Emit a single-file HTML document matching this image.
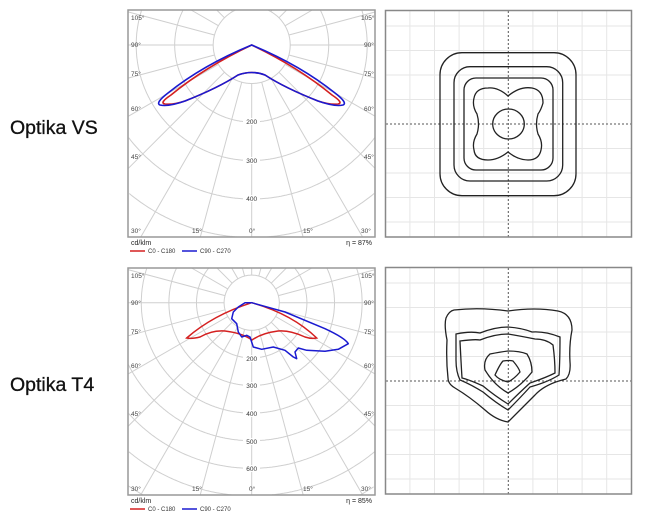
<!DOCTYPE html>
<html><head><meta charset="utf-8"><style>
html,body{margin:0;padding:0;background:#fff;width:645px;height:525px;overflow:hidden;position:relative}
svg{display:block;position:absolute;left:0;top:0}
text{font-family:"Liberation Sans",sans-serif}
.ax{font-size:6.5px;fill:#444}
.rl{font-size:6.5px;fill:#333}
</style></head><body>
<svg width="645" height="525" viewBox="0 0 645 525" xmlns="http://www.w3.org/2000/svg">
<defs>
<clipPath id="c1"><rect x="128" y="10" width="247" height="227"/></clipPath>
<clipPath id="c2"><rect x="128" y="268" width="247" height="227"/></clipPath>
</defs>
<text x="10" y="134" style="font-size:19.5px;fill:#111;stroke:#111;stroke-width:0.3">Optika VS</text>
<text x="10" y="391" style="font-size:19.5px;fill:#111;stroke:#111;stroke-width:0.3">Optika T4</text>

<g id="g1" stroke="#cfcfcf" stroke-width="1" fill="none"></g>
<g id="g2" stroke="#cfcfcf" stroke-width="1" fill="none"></g>

<path d="M251.7,45 Q298,67 332,95 Q344,103 338,104 Q330,105 318,101 Q285,88 265,75 Q252,70 238,75 Q218,88 185,101 Q173,105 165,104 Q159,103 171,95 Q205,67 251.7,45Z" fill="none" stroke="#d42020" stroke-width="1.6"/>
<path d="M251.7,45 Q300,65 335,93 Q348,103 343,105 Q335,107 318,101 Q285,88 265,75 Q252,70 238,75 Q218,88 185,101 Q168,107 160,105 Q155,103 168,93 Q203,65 251.7,45Z" fill="none" stroke="#1a1ad0" stroke-width="1.6"/>
<rect x="128" y="10" width="247" height="227" fill="none" stroke="#999" stroke-width="1.5"/>
<g class="ax">
<text x="131" y="20">105°</text><text x="131" y="47">90°</text><text x="131" y="76">75°</text><text x="131" y="111">60°</text><text x="131" y="159">45°</text>
<text x="131" y="233">30°</text><text x="192" y="233">15°</text><text x="249" y="233">0°</text><text x="303" y="233">15°</text><text x="361" y="233">30°</text>
<text x="361" y="20">105°</text><text x="364" y="47">90°</text><text x="364" y="76">75°</text><text x="364" y="111">60°</text><text x="364" y="159">45°</text>
</g>
<g class="rl" text-anchor="middle">
<rect x="243" y="118" width="17" height="7" fill="#fff"/><text x="251.7" y="124">200</text>
<rect x="243" y="157" width="17" height="7" fill="#fff"/><text x="251.7" y="163">300</text>
<rect x="243" y="195" width="17" height="7" fill="#fff"/><text x="251.7" y="201">400</text>
</g>
<text x="131" y="245" style="font-size:7px;fill:#222">cd/klm</text>
<text x="372" y="245" text-anchor="end" style="font-size:7px;fill:#222">η = 87%</text>
<line x1="130" y1="251" x2="145" y2="251" stroke="#d42020" stroke-width="1.5"/>
<text x="148" y="253" style="font-size:6px;fill:#333">C0 - C180</text>
<line x1="182" y1="251" x2="197" y2="251" stroke="#1a1ad0" stroke-width="1.5"/>
<text x="200" y="253" style="font-size:6px;fill:#333">C90 - C270</text>

<path d="M251.7,302.7 Q292,314 316.7,338 Q311,339 305,337 Q290,330 278,331 Q262,333 252,340 Q242,333 225,331 Q212,330 200,337 Q192,339 186.7,338 Q213,315 251.7,302.7Z" fill="none" stroke="#d42020" stroke-width="1.5"/>
<path d="M251.7,302.7 L285,312 L325,328.7 Q345,338 348.3,343.7 L338.3,349.3 L325,351.3 L306.7,350.3 L298.3,348 L295,352 L296.7,358.7 L293.3,357 L285,350.3 L273.3,347 L261.7,349.3 L253.3,347 L250,337 L246.7,335.3 L241.7,337 L238.3,332 L236.7,323.7 L231.7,318.7 L233.3,312 L238.3,307 L245,302.7Z" fill="none" stroke="#1a1ad0" stroke-width="1.5" stroke-linejoin="round"/>
<rect x="128" y="268" width="247" height="227" fill="none" stroke="#999" stroke-width="1.5"/>
<g class="ax">
<text x="131" y="278">105°</text><text x="131" y="305">90°</text><text x="131" y="334">75°</text><text x="131" y="368">60°</text><text x="131" y="416">45°</text>
<text x="131" y="491">30°</text><text x="192" y="491">15°</text><text x="249" y="491">0°</text><text x="303" y="491">15°</text><text x="361" y="491">30°</text>
<text x="361" y="278">105°</text><text x="364" y="305">90°</text><text x="364" y="334">75°</text><text x="364" y="368">60°</text><text x="364" y="416">45°</text>
</g>
<g class="rl" text-anchor="middle">
<rect x="243" y="355" width="17" height="7" fill="#fff"/><text x="251.7" y="361">200</text>
<rect x="243" y="382" width="17" height="7" fill="#fff"/><text x="251.7" y="388">300</text>
<rect x="243" y="410" width="17" height="7" fill="#fff"/><text x="251.7" y="416">400</text>
<rect x="243" y="438" width="17" height="7" fill="#fff"/><text x="251.7" y="444">500</text>
<rect x="243" y="465" width="17" height="7" fill="#fff"/><text x="251.7" y="471">600</text>
</g>
<text x="131" y="503" style="font-size:7px;fill:#222">cd/klm</text>
<text x="372" y="503" text-anchor="end" style="font-size:7px;fill:#222">η = 85%</text>
<line x1="130" y1="509" x2="145" y2="509" stroke="#d42020" stroke-width="1.5"/>
<text x="148" y="511" style="font-size:6px;fill:#333">C0 - C180</text>
<line x1="182" y1="509" x2="197" y2="509" stroke="#1a1ad0" stroke-width="1.5"/>
<text x="200" y="511" style="font-size:6px;fill:#333">C90 - C270</text>

<g id="gr" stroke="#e6e6e6" stroke-width="1"></g>
<g stroke="#555" stroke-width="1" stroke-dasharray="2,2">
<line x1="508.3" y1="11" x2="508.3" y2="237"/><line x1="386" y1="124" x2="631" y2="124"/>
<line x1="508.3" y1="268" x2="508.3" y2="494"/><line x1="386" y1="381" x2="631" y2="381"/>
</g>
<rect x="385.5" y="10.5" width="246" height="226.5" fill="none" stroke="#888" stroke-width="1.5"/>
<rect x="385.5" y="267.5" width="246" height="226.5" fill="none" stroke="#888" stroke-width="1.5"/>

<g fill="none" stroke="#222" stroke-width="1.3">
<rect x="440" y="52.7" width="136" height="143" rx="22"/>
<rect x="454" y="66.7" width="108.7" height="114.3" rx="16"/>
<rect x="464" y="78" width="89" height="92" rx="12"/>
<path d="M508,96 Q520,86 532,88 Q543,90 543,103 Q541,110 538,114 Q535,124 538,134 Q543,142 541,150 Q539,160 528,160 Q518,160 508,152 Q498,160 488,160 Q475,160 474,150 Q472,142 477,134 Q480,124 477,114 Q472,106 474,98 Q476,88 488,88 Q498,87 508,96Z"/>
<ellipse cx="508.5" cy="124" rx="15.8" ry="15"/>

<path d="M454,310 Q480,307 508,311 Q535,307 558,311 Q572,314 572,330 Q569,345 570,362 Q571,374 566,379 Q545,384 535,395 Q520,410 508,422 Q496,420 485,410 Q470,397 455,388 Q448,384 448,378 Q446,360 447,340 Q444,325 446,318 Q449,311 454,310Z"/>
<path d="M456,334 Q470,331 480,333 Q495,327 508,327 Q522,328 532,332 Q545,331 560,337 Q560,360 559,375 Q548,382 530,387 Q520,398 508,410 Q496,403 483,392 Q470,384 460,380 Q456,372 456,360Z"/>
<path d="M460,341 Q475,339 480,340 Q495,334 508,334 Q520,336 535,339 Q546,339 553,345 Q555,360 555,373 Q545,378 530,383 Q518,394 508,404 Q495,396 483,386 Q470,380 462,378 Q461,362 460,341Z"/>
<path d="M485,370 Q483,360 490,354 Q500,352 508,351 Q520,351 527,354 Q532,362 532,372 Q522,385 508,393 Q494,385 485,370Z"/>
<path d="M495,375 Q500,364 503,361 Q510,360 513,361 Q519,368 520,372 Q514,379 508,382 Q499,380 495,375Z"/>
</g>
</svg>
<script>
(function(){
var NS="http://www.w3.org/2000/svg";
function add(g,tag,at){var e=document.createElementNS(NS,tag);for(var k in at)e.setAttribute(k,at[k]);g.insertBefore(e,null);}
function polar(id,cx,cy,s,n,x0,y0,x1,y1){
 var g=document.getElementById(id);
 function inside(x,y){return x>=x0&&x<=x1&&y>=y0&&y<=y1;}
 var d="";
 for(var i=1;i<=n;i++){var r=i*s,open=false;
  for(var a=0;a<=720;a++){var t=a*Math.PI/360,x=cx+r*Math.sin(t),y=cy+r*Math.cos(t);
   if(inside(x,y)){d+=(open?"L":"M")+x.toFixed(1)+","+y.toFixed(1);open=true;}else open=false;}
 }
 for(var a=0;a<360;a+=15){var t=a*Math.PI/180,sx=Math.sin(t),sy=Math.cos(t);
  var tm=1e9;
  if(sx>1e-9)tm=Math.min(tm,(x1-cx)/sx); if(sx<-1e-9)tm=Math.min(tm,(x0-cx)/sx);
  if(sy>1e-9)tm=Math.min(tm,(y1-cy)/sy); if(sy<-1e-9)tm=Math.min(tm,(y0-cy)/sy);
  if(tm>s) d+="M"+(cx+sx*s).toFixed(1)+","+(cy+sy*s).toFixed(1)+"L"+(cx+sx*tm).toFixed(1)+","+(cy+sy*tm).toFixed(1);
 }
 add(g,"path",{d:d});
}
polar("g1",251.7,45,38.5,7,128,10,375,237);
polar("g2",251.7,302.7,27.6,10,128,268,375,495);
var gr=document.getElementById("gr");
[[11,237],[268,494]].forEach(function(b,j){
 var cy=j?381:124;
 for(var k=-5;k<=5;k++){var y=cy+k*24.5;if(y>b[0]&&y<b[1]&&k)add(gr,"line",{x1:386,y1:y,x2:631,y2:y});
  var x=508.3+k*24.6;if(x>386&&x<631&&k)add(gr,"line",{x1:x,y1:b[0],x2:x,y2:b[1]});}
});
})();
</script>
</body></html>
